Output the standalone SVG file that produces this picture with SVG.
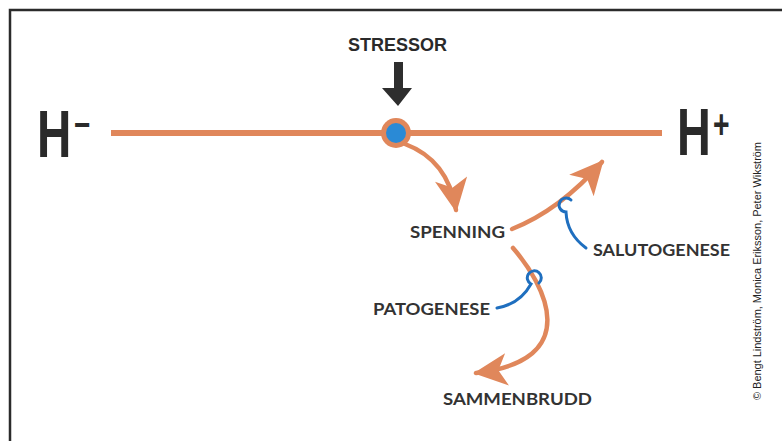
<svg xmlns="http://www.w3.org/2000/svg" width="782" height="441" viewBox="0 0 782 441">
  <style>
    .frame { fill: none; stroke: #2b2b2b; stroke-width: 2.5; }
    .axis { stroke: #e0875b; stroke-width: 6; fill: none; }
    .flow { stroke: #e0875b; stroke-width: 4.5; fill: none; stroke-linecap: round; }
    .link { stroke: #1f6fbf; stroke-width: 3; fill: none; stroke-linecap: round; }
    .big { font-family: "Liberation Sans", Arial, sans-serif; font-weight: bold; fill: #2a2a2a; }
    .label { font-family: Lato, "Open Sans", sans-serif; font-weight: bold; font-size: 17px; fill: #333; }
    .credit { font-family: "Liberation Sans", Arial, sans-serif; font-size: 11.5px; fill: #222; }
  </style>
  <defs>
    <marker id="head" markerUnits="userSpaceOnUse" markerWidth="40" markerHeight="40" viewBox="-28 -15 32 30" refX="0" refY="0" orient="auto">
      <path d="M2,0 L-25,-13 L-18,0 L-25,13 Z" fill="#e0875b"/>
    </marker>
  </defs>

  <rect width="782" height="441" fill="#ffffff"/>
  <!-- frame -->
  <path class="frame" d="M10,460 L10,10 L800,10"/>

  <!-- horizontal health axis -->
  <g id="axis">
    <line class="axis" x1="111" y1="133" x2="662" y2="133"/>
  </g>

  <!-- condensed H with raised sign, one text run each -->
  <g id="h-minus">
    <text class="big" transform="translate(37,157) scale(0.71,1)" font-size="67">H<tspan font-size="40" dx="4" dy="-21">–</tspan></text>
  </g>

  <g id="h-plus">
    <text class="big" transform="translate(677,155) scale(0.71,1)" font-size="66">H<tspan font-size="40" dx="3" dy="-17">+</tspan></text>
  </g>

  <g id="stressor">
    <text class="big" x="348" y="51" font-size="19" textLength="99" lengthAdjust="spacingAndGlyphs">STRESSOR</text>
    <path d="M394,62 L403,62 L403,88 L412,88 L398,106 L382,88 L394,88 Z" fill="#2e2e2e"/>
  </g>

  <g id="stress-point">
    <circle cx="396" cy="133" r="15" fill="#e0875b"/>
    <circle cx="396" cy="133" r="10" fill="#2a8ad6"/>
  </g>

  <g id="connectors">
    <path class="flow" d="M405,144 Q448,160 456,210" marker-end="url(#head)"/>
    <path class="flow" d="M512,229 Q560,210 602,162" marker-end="url(#head)"/>
    <path class="flow" d="M513,248 C545,285 585,360 476,373" marker-end="url(#head)"/>
    <path class="link" d="M571,200 A7,7 0 1 0 566,212 Q567,234 586,248"/>
    <path class="link" d="M539,283 A7,7 0 1 0 531,284 Q520,304 497,308"/>
  </g>

  <g id="spenning"><text class="label" x="410" y="238" textLength="95" lengthAdjust="spacingAndGlyphs">SPENNING</text></g>
  <g id="salutogenese"><text class="label" x="593" y="256" textLength="137" lengthAdjust="spacingAndGlyphs">SALUTOGENESE</text></g>
  <g id="patogenese"><text class="label" x="373" y="315" textLength="117" lengthAdjust="spacingAndGlyphs">PATOGENESE</text></g>
  <g id="sammenbrudd"><text class="label" x="443" y="405" textLength="149" lengthAdjust="spacingAndGlyphs">SAMMENBRUDD</text></g>

  <g id="credit">
    <text class="credit" transform="translate(761,400) rotate(-90)" textLength="258" lengthAdjust="spacingAndGlyphs">© Bengt Lindström, Monica Eriksson, Peter Wikström</text>
  </g>
</svg>
